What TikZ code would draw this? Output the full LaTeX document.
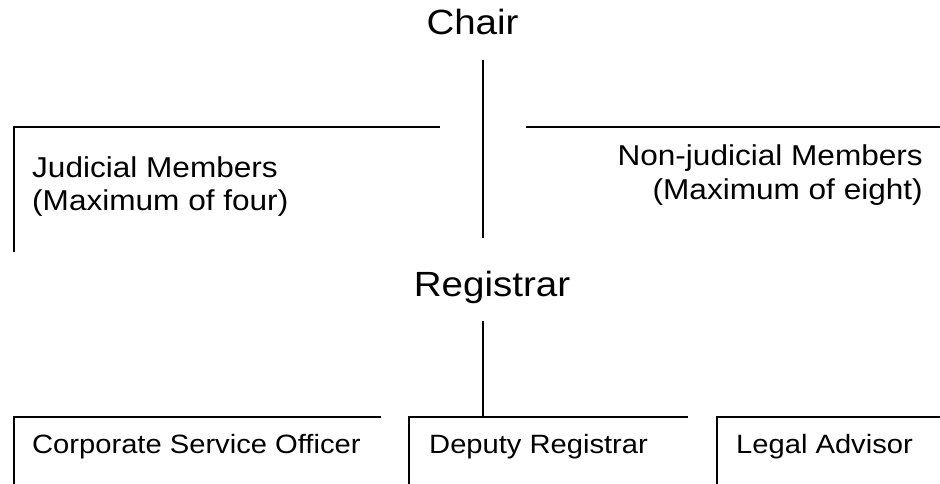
\documentclass[tikz,border=0pt]{standalone}
\usepackage{fontspec}
\setmainfont{Liberation Sans}[FakeStretch=1.1]
\begin{document}
\begin{tikzpicture}[x=1pt,y=-1pt,
  ln/.style={line width=1.5pt,black},
  ttl/.style={font=\fontsize{35}{40}\selectfont,inner sep=0pt,anchor=base},
  mem/.style={font=\fontsize{28.7}{34}\selectfont,inner sep=0pt},
  bot/.style={font=\fontsize{26.5}{30}\selectfont,inner sep=0pt,anchor=base west}]
\useasboundingbox (0,0) rectangle (940,484);
% titles
\node[ttl] (chair) at (472.5,35) {Chair};
\node[ttl] (reg) at (492,296) {Registrar};
% member texts
\node[mem,anchor=base west] (jm1) at (32,178) {Judicial Members};
\node[mem,anchor=base west] (jm2) at (32,210) {(Maximum of four)};
\node[mem,anchor=base east] (nj1) at (923,165) {Non-judicial Members};
\node[mem,anchor=base east] (nj2) at (923,200) {(Maximum of eight)};
% bottom texts
\node[bot] (cso) at (32,453) {Corporate Service Officer};
\node[bot] (dep) at (429,453) {Deputy Registrar};
\node[bot] (leg) at (736,453) {Legal Advisor};
% coordinates
\coordinate (c1) at (483,60);
\coordinate (c2) at (483,238);
\coordinate (r1) at (483,321);
\coordinate (r2) at (483,417);
\coordinate (jl0) at (14,252);
\coordinate (jl1) at (14,127);
\coordinate (jl2) at (440,127);
\coordinate (nl1) at (526,127);
\coordinate (nl2) at (940,127);
\coordinate (b10) at (14,484);
\coordinate (b11) at (14,417);
\coordinate (b12) at (381,417);
\coordinate (b20) at (409,484);
\coordinate (b21) at (409,417);
\coordinate (b22) at (688,417);
\coordinate (b30) at (717,484);
\coordinate (b31) at (717,417);
\coordinate (b32) at (940,417);
% lines
\draw[ln] (c1) -- (c2);
\draw[ln] (r1) -- (r2);
\draw[ln] (jl0) -- (jl1) -- (jl2);
\draw[ln] (nl1) -- (nl2);
\draw[ln] (b10) -- (b11) -- (b12);
\draw[ln] (b20) -- (b21) -- (b22);
\draw[ln] (b30) -- (b31) -- (b32);
\end{tikzpicture}
\end{document}
